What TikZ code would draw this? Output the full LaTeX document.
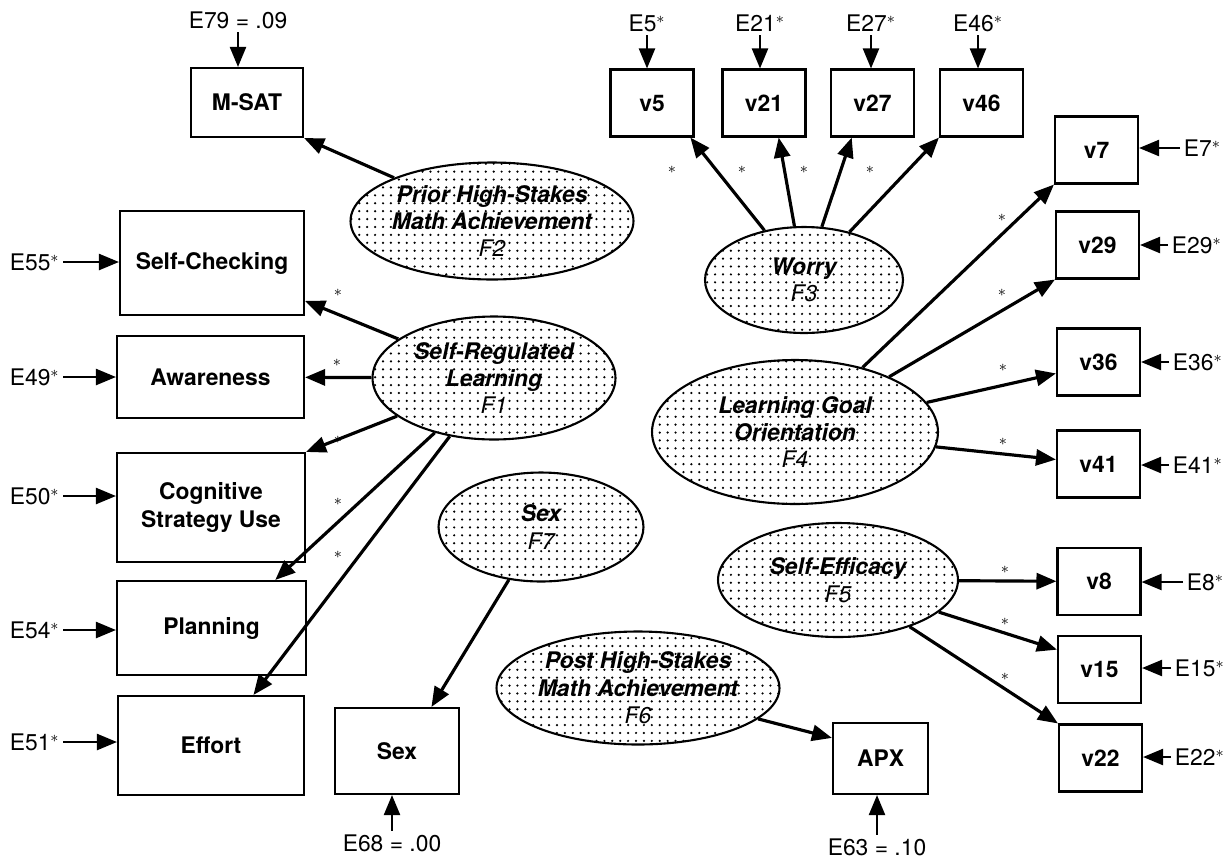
\documentclass[tikz,border=0pt]{standalone}
\usepackage{fontspec}
\setmainfont{TeX Gyre Heros}
\usepackage{tikz}
\usetikzlibrary{shapes.geometric, arrows.meta, patterns}

\newcommand{\labelsize}{\fontsize{13}{15.6}\selectfont}

% Sparse dot screen for the latent factors
\pgfdeclarepatternformonly{sparsedots}{\pgfqpoint{-1pt}{-1pt}}{\pgfqpoint{5.5pt}{5.5pt}}{\pgfqpoint{4.5pt}{4.5pt}}{%
    \pgfpathcircle{\pgfqpoint{2pt}{2pt}}{0.7pt}\pgfusepath{fill}}

\tikzset{
    >={Triangle[length=0.4cm, width=0.32cm]},           % Large solid arrow heads
    box/.style={draw, line width=1.2pt, inner sep=0pt,    % Observed variables
        align=center, font=\labelsize\bfseries},
    vbox/.style={box, minimum width=1.66cm, minimum height=1.34cm},
    factor/.style={ellipse, draw, line width=1.2pt,       % Latent factors
        pattern=sparsedots, inner sep=0pt, align=center,
        font=\labelsize\bfseries\itshape},
    loading/.style={->, line width=1.8pt},               % Factor loadings
    err/.style={inner sep=2pt, font=\labelsize},          % Error terms
    errarrow/.style={->, line width=1.3pt},
    est/.style={inner sep=0pt, font=\small}               % Free estimates
}

\begin{document}
\begin{tikzpicture}[x=0.02cm, y=-0.02cm]
    \useasboundingbox (0,0) rectangle (1230,863);

    % observed variables
    \node [box, minimum width=2.24cm, minimum height=1.38cm] (msat) at (247,102.5) {M-SAT};
    \node [box, minimum width=3.68cm, minimum height=2.08cm] (check) at (212,263) {Self-Checking};
    \node [box, minimum width=3.74cm, minimum height=1.64cm] (aware) at (210.5,377) {Awareness};
    \node [box, minimum width=3.76cm, minimum height=2.18cm] (cogn) at (211,507.5) {Cognitive\\Strategy Use};
    \node [box, minimum width=3.78cm, minimum height=1.88cm] (plan) at (211.5,628) {Planning};
    \node [box, minimum width=3.72cm, minimum height=1.98cm] (effort) at (211,745.5) {Effort};
    \node [box, minimum width=2.48cm, minimum height=1.72cm] (sexv) at (397,751) {Sex};
    \node [box, minimum width=1.90cm, minimum height=1.42cm] (apx) at (880.5,758.5) {APX};

    \node [vbox] (v5) at (652,103) {v5};
    \node [vbox] (v21) at (764,103) {v21};
    \node [vbox] (v27) at (872.5,103) {v27};
    \node [vbox] (v46) at (981.5,103) {v46};
    \node [vbox] (v7) at (1096.5,150) {v7};
    \node [vbox] (v29) at (1097.5,245) {v29};
    \node [vbox] (v36) at (1098.5,362) {v36};
    \node [vbox] (v41) at (1098.5,464) {v41};
    \node [vbox] (v8) at (1099,581.5) {v8};
    \node [vbox] (v15) at (1099.5,669.5) {v15};
    \node [vbox] (v22) at (1100.5,758) {v22};

    % latent factors
    \node [factor, minimum width=5.64cm, minimum height=2.34cm] (F2) at (492,221) {Prior High-Stakes\\Math Achievement\\\mdseries F2};
    \node [factor, minimum width=4.86cm, minimum height=2.46cm] (F1) at (494,378) {Self-Regulated\\Learning\\\mdseries F1};
    \node [factor, minimum width=3.96cm, minimum height=2.12cm] (F3) at (804,280) {Worry\\\mdseries F3};
    \node [factor, minimum width=5.72cm, minimum height=2.88cm] (F4) at (795,432) {Learning Goal\\Orientation\\\mdseries F4};
    \node [factor, minimum width=4.80cm, minimum height=2.28cm] (F5) at (838,580) {Self-Efficacy\\\mdseries F5};
    \node [factor, minimum width=5.60cm, minimum height=2.26cm] (F6) at (638,688) {Post High-Stakes\\Math Achievement\\\mdseries F6};
    \node [factor, minimum width=4.10cm, minimum height=2.18cm] (F7) at (541,527) {Sex\\\mdseries F7};

    % error terms
    \node [err] (e79) at (238,20) {E79 = .09};
    \node [err] (e5) at (647,23) {E5$^*$};
    \node [err] (e21) at (760,23) {E21$^*$};
    \node [err] (e27) at (871,23) {E27$^*$};
    \node [err] (e46) at (978,23) {E46$^*$};
    \node [err, anchor=west] (e55) at (6,262) {E55$^*$};
    \node [err, anchor=west] (e49) at (6,377) {E49$^*$};
    \node [err, anchor=west] (e50) at (6,496) {E50$^*$};
    \node [err, anchor=west] (e54) at (6,630) {E54$^*$};
    \node [err, anchor=west] (e51) at (6,742) {E51$^*$};
    \node [err, anchor=west] (e7) at (1180,148) {E7$^*$};
    \node [err, anchor=west] (e29) at (1168,245) {E29$^*$};
    \node [err, anchor=west] (e36) at (1169,362) {E36$^*$};
    \node [err, anchor=west] (e41) at (1169,465) {E41$^*$};
    \node [err, anchor=west] (e8) at (1183,582) {E8$^*$};
    \node [err, anchor=west] (e15) at (1171,668) {E15$^*$};
    \node [err, anchor=west] (e22) at (1171,757) {E22$^*$};
    \node [err] (e68) at (392,843) {E68 = .00};
    \node [err] (e63) at (877,847) {E63 = .10};

    \draw [errarrow] (e79) -- (e79 |- msat.north);
    \draw [errarrow] (e5) -- (e5 |- v5.north);
    \draw [errarrow] (e21) -- (e21 |- v21.north);
    \draw [errarrow] (e27) -- (e27 |- v27.north);
    \draw [errarrow] (e46) -- (e46 |- v46.north);
    \draw [errarrow] (e55) -- (e55 -| check.west);
    \draw [errarrow] (e49) -- (e49 -| aware.west);
    \draw [errarrow] (e50) -- (e50 -| cogn.west);
    \draw [errarrow] (e54) -- (e54 -| plan.west);
    \draw [errarrow] (e51) -- (e51 -| effort.west);
    \draw [errarrow] (e7) -- (e7 -| v7.east);
    \draw [errarrow] (e29) -- (e29 -| v29.east);
    \draw [errarrow] (e36) -- (e36 -| v36.east);
    \draw [errarrow] (e41) -- (e41 -| v41.east);
    \draw [errarrow] (e8) -- (e8 -| v8.east);
    \draw [errarrow] (e15) -- (e15 -| v15.east);
    \draw [errarrow] (e22) -- (e22 -| v22.east);
    \draw [errarrow] (e68) -- (e68 |- sexv.south);
    \draw [errarrow] (e63) -- (e63 |- apx.south);

    % loadings
    \draw [loading] (F2) -- (msat.south east);
    \draw [loading] (F1) -- (check);
    \draw [loading] (F1) -- (aware);
    \draw [loading] (F1) -- (cogn.north east);
    \draw [loading] (F1) -- (plan.37);
    \draw [loading] (F1) -- (effort.50);
    \draw [loading] (F7) -- (sexv.52);
    \draw [loading] (F3) -- (v5.-42);
    \draw [loading] (F3) -- (v21.-67);
    \draw [loading] (F3) -- (v27.-121);
    \draw [loading] (F3) -- (v46.south west);
    \draw [loading] (F4) -- (v7.south west);
    \draw [loading] (F4) -- (v29.south west);
    \draw [loading] (F4) -- (v36.-165);
    \draw [loading] (F4) -- (v41.174);
    \draw [loading] (F5) -- (v8);
    \draw [loading] (F5) -- (v15.155);
    \draw [loading] (F5) -- (v22.north west);
    \draw [loading] (F6) -- (apx.157);

    % free parameters
    \foreach \p [count=\k] in {(338,293), (337,363), (338,440), (338,502), (338,555),
                               (672,170), (742,170), (804,170), (870,170),
                               (1002,218), (1002,293), (1003,368), (1003,442),
                               (1005,570), (1005,622), (1005,677)}
        \node [est] (star\k) at \p {$\ast$};
\end{tikzpicture}
\end{document}
